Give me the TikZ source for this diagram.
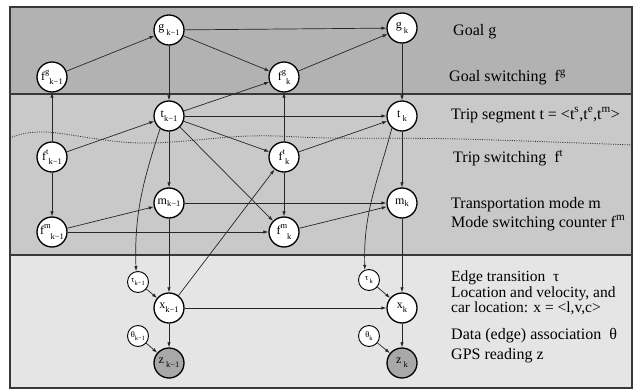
\documentclass[tikz,border=0pt]{standalone}
\usepackage{fontspec}
\setmainfont{Liberation Serif}
\usetikzlibrary{arrows.meta}
\definecolor{bandA}{gray}{0.70}
\definecolor{bandB}{gray}{0.79}
\definecolor{bandC}{gray}{0.90}
\definecolor{zfill}{gray}{0.66}
\definecolor{framec}{gray}{0.22}
\newcommand\MF{\fontsize{12}{12}\selectfont}
\newcommand\SF{\fontsize{8.5}{8.5}\selectfont}
\newcommand\lo[1]{\raisebox{-0.35em}{\SF #1}}
\newcommand\hi[1]{\raisebox{0.5em}{\SF #1}}
\newcommand\MFs{\fontsize{8.5}{8.5}\selectfont}
\newcommand\SFs{\fontsize{6.5}{6.5}\selectfont}
\newcommand\los[1]{\raisebox{-0.25em}{\SFs #1}}
\tikzset{
  bignode/.style={circle, draw=black, fill=white, line width=1.3pt, minimum size=30pt, inner sep=0pt, font=\MF},
  smallnode/.style={circle, draw=black, fill=white, line width=0.9pt, minimum size=21pt, inner sep=0pt, font=\MFs},
  obsnode/.style={bignode, fill=zfill},
  arr/.style={-{Latex[length=5pt,width=3.4pt]}, line width=0.7pt, draw=black!85},
  desc/.style={anchor=west, inner sep=0pt, font=\fontsize{16}{16}\selectfont},
  framel/.style={draw=framec, line width=1.2pt}
}
\begin{document}
\begin{tikzpicture}[x=1pt,y=-1pt]
\useasboundingbox (0,0) rectangle (639,390);
% bands
\fill[bandA] (10,7) rectangle (632,94);
\fill[bandB] (10,94) rectangle (632,255);
\fill[bandC] (10,255) rectangle (632,388);
\draw[framel] (10,94) -- (632,94);
\draw[framel] (10,255) -- (632,255);
\draw[framel] (10,7) rectangle (632,388);
% dotted wave
\draw[line width=0.8pt, dash pattern=on 1pt off 1.3pt, black!80]
  plot[smooth, tension=0.6] coordinates {(10,138) (45,132) (140,143) (250,136) (330,138) (460,139) (632,145)};
% nodes
\node[bignode] (gk1) at (169,30) {g\,\lo{k−1}};
\node[bignode] (gk) at (402,28) {g\,\lo{k}};
\node[bignode] (fgk1) at (52,77) {f\hi{g}\lo{k−1}};
\node[bignode] (fgk) at (284,77) {f\hi{g}\lo{k}};
\node[bignode] (tk1) at (169,116) {t\lo{k−1}};
\node[bignode] (tk) at (402,116) {t\,\lo{k}};
\node[bignode] (ftk1) at (52,157) {f\hi{t}\lo{k−1}};
\node[bignode] (ftk) at (284,157) {f\hi{t}\lo{k}};
\node[bignode] (mk1) at (169,203) {m\raisebox{-0.15em}{\SF k−1}};
\node[bignode] (mk) at (402,203) {m\raisebox{-0.15em}{\SF k}};
\node[bignode] (fmk1) at (52,232) {f\hi{m}\lo{k−1}};
\node[bignode] (fmk) at (284,232) {f\hi{m}\lo{k}};
\node[smallnode] (tau1) at (138,282) {τ\los{k−1}};
\node[smallnode] (tauk) at (369,280) {τ\los{\,k}};
\node[bignode] (xk1) at (169,308) {x\lo{k−1}};
\node[bignode] (xk) at (402,308) {x\lo{k}};
\node[smallnode] (th1) at (138,336) {θ\los{k−1}};
\node[smallnode] (thk) at (369,336) {θ\los{k}};
\node[obsnode] (zk1) at (169,363) {z\,\lo{k−1}};
\node[obsnode] (zk) at (402,363) {z\,\lo{k}};
% edges
\draw[arr] (fgk1) -- (gk1);
\draw[arr] (gk1) -- (gk);
\draw[arr] (gk1) -- (fgk);
\draw[arr] (fgk) -- (gk);
\draw[arr] (gk1) -- (tk1);
\draw[arr] (gk) -- (tk);
\draw[arr] (ftk1) -- (fgk1);
\draw[arr] (ftk1) -- (tk1);
\draw[arr] (ftk1) -- (fmk1);
\draw[arr] (tk1) -- (fgk);
\draw[arr] (tk1) -- (tk);
\draw[arr] (tk1) -- (ftk);
\draw[arr] (tk1) -- (mk1);
\draw[arr] (tk1) -- (fmk);
\draw[arr] (tk1.-125) to[out=-108,in=92] (tau1.100);
\draw[arr] (ftk) -- (fgk);
\draw[arr] (ftk) -- (tk);
\draw[arr] (ftk) -- (fmk);
\draw[arr] (xk1) -- (ftk);
\draw[arr] (mk1) -- (mk);
\draw[arr] (mk1) -- (xk1);
\draw[arr] (fmk1) -- (mk1);
\draw[arr] (fmk1) -- (fmk);
\draw[arr] (fmk) -- (mk);
\draw[arr] (tk.-130) to[out=-105,in=92] (tauk.112);
\draw[arr] (tk) -- (mk);
\draw[arr] (mk) -- (xk);
\draw[arr] (tau1) -- (xk1);
\draw[arr] (xk1) -- (xk);
\draw[arr] (xk1) -- (zk1);
\draw[arr] (th1) -- (zk1);
\draw[arr] (tauk) -- (xk);
\draw[arr] (xk) -- (zk);
\draw[arr] (thk) -- (zk);
% descriptions
\node[desc] (d1) at (453,32) {Goal g};
\node[desc] (d2) at (449,77) {Goal switching\ \ f\textsuperscript{g}};
\node[desc] (d3) at (451,115) {Trip segment t = <t\textsuperscript{s},t\textsuperscript{e},t\textsuperscript{m}>};
\node[desc] (d4) at (453,158) {Trip switching\ \ f\textsuperscript{t}};
\node[desc] (d5) at (451,205) {Transportation mode m};
\node[desc] (d6) at (451,223) {Mode switching counter\ f\textsuperscript{m}};
\node[desc, font=\fontsize{15.5}{15.5}\selectfont] (d7) at (451,277.5) {Edge transition\ \ τ};
\node[desc, align=left, font=\fontsize{15.5}{12.3}\selectfont] (d8) at (451,300.5) {Location and velocity, and\\car location: x = <l,v,c>};
\node[desc] (d10) at (451,336) {Data (edge) association\ \ θ};
\node[desc] (d11) at (451,356) {GPS reading z};
\end{tikzpicture}
\end{document}
